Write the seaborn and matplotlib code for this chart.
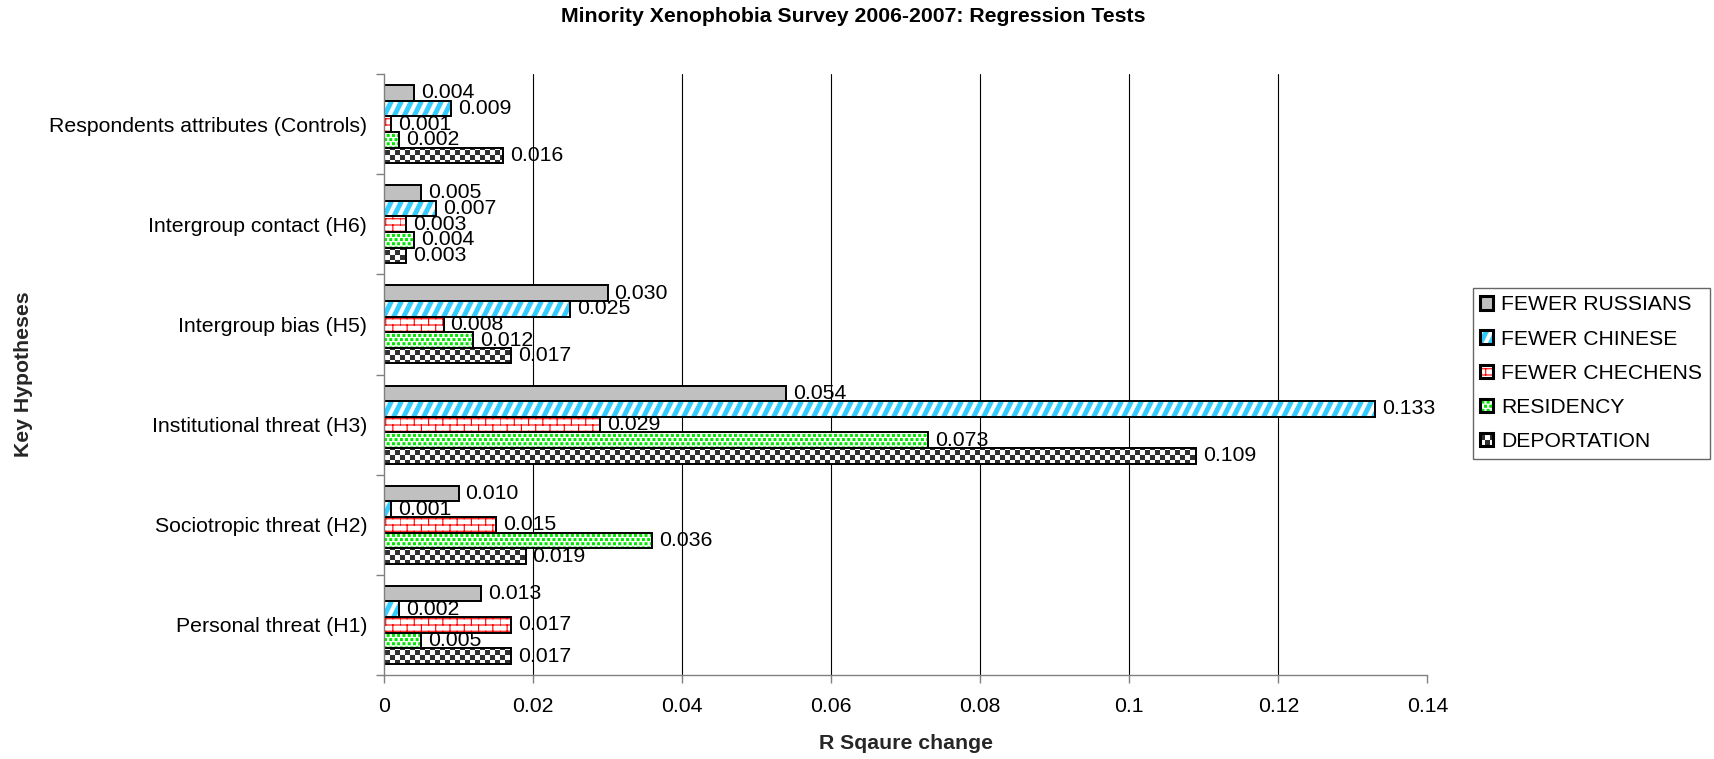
import warnings
warnings.filterwarnings('ignore')
import numpy as np
import pandas as pd
import matplotlib
matplotlib.use('Agg')
import matplotlib.pyplot as plt
import seaborn as sns
import matplotlib.hatch as mhatch
from matplotlib.path import Path
from matplotlib.patches import Rectangle, Patch
from matplotlib.legend_handler import HandlerTuple
from matplotlib.ticker import FixedLocator

# ---------------- data ----------------
hypotheses = ["Respondents attributes (Controls)", "Intergroup contact (H6)",
              "Intergroup bias (H5)", "Institutional threat (H3)",
              "Sociotropic threat (H2)", "Personal threat (H1)"]
measures = ["FEWER RUSSIANS", "FEWER CHINESE", "FEWER CHECHENS", "RESIDENCY", "DEPORTATION"]
fewer_russians = [0.004, 0.005, 0.030, 0.054, 0.010, 0.013]
fewer_chinese = [0.009, 0.007, 0.025, 0.133, 0.001, 0.002]
fewer_chechens = [0.001, 0.003, 0.008, 0.029, 0.015, 0.017]
residency = [0.002, 0.004, 0.012, 0.073, 0.036, 0.005]
deportation = [0.016, 0.003, 0.017, 0.109, 0.019, 0.017]
x_ticks = [0, 0.02, 0.04, 0.06, 0.08, 0.10, 0.12, 0.14]
x_tick_labels = ["0", "0.02", "0.04", "0.06", "0.08", "0.1", "0.12", "0.14"]
title = "Minority Xenophobia Survey 2006-2007: Regression Tests"
x_label = "R Sqaure change"
y_label = "Key Hypotheses"

series = [fewer_russians, fewer_chinese, fewer_chechens, residency, deportation]
df = pd.DataFrame({
    "hypothesis": hypotheses * len(measures),
    "measure": [m for m in measures for _ in hypotheses],
    "value": [v for s in series for v in s],
})

# ---------------- custom Excel-like hatch patterns ----------------
MOVE, LINE, CLOSE = Path.MOVETO, Path.LINETO, Path.CLOSEPOLY


class _Polys(mhatch.HatchPatternBase):
    char = None

    def polys(self):
        return []

    def __init__(self, hatch, density):
        self.on = hatch is not None and self.char in hatch
        self._p = self.polys() if self.on else []
        self.num_vertices = sum(len(p) for p in self._p)

    def set_vertices_and_codes(self, vertices, codes):
        i = 0
        for p in self._p:
            n = len(p)
            for j, (x, y) in enumerate(p):
                vertices[i + j] = (x, y)
            if n == 2:
                codes[i] = MOVE
                codes[i + 1] = LINE
            else:
                codes[i] = MOVE
                codes[i + 1:i + n - 1] = LINE
                codes[i + n - 1] = CLOSE
            i += n


class BrickHatch(_Polys):
    char = 'b'

    def polys(self):
        rows, cols = 16, 7
        out = []
        for r in range(rows):
            y = r / rows
            out.append([(0, y), (1, y)])
            off = 0.5 / cols if r % 2 else 0.0
            for c in range(cols):
                x = c / cols + off
                out.append([(x, y), (x, y + 1 / rows)])
        return out


class CheckHatch(_Polys):
    char = 'k'

    def polys(self):
        n = 20
        s = 1 / n
        e = 0.0055
        out = []
        for i in range(n):
            for j in range(n):
                if (i + j) % 2 == 0:
                    x0, y0 = i * s + e, j * s + e
                    x1, y1 = (i + 1) * s - e, (j + 1) * s - e
                    out.append([(x0, y0), (x1, y0), (x1, y1), (x0, y1), (x0, y0)])
        return out


class DotHatch(_Polys):
    char = 'g'

    def polys(self):
        nx, ny = 19, 24
        d = 0.0095
        out = []
        for r in range(ny):
            y = (r + 0.5) / ny
            off = 0.5 / nx if r % 2 else 0.0
            for c in range(nx):
                x = (c + 0.25) / nx + off
                out.append([(x - d, y - d), (x + d, y - d), (x + d, y + d), (x - d, y + d), (x - d, y - d)])
        return out


class StripeHatch(_Polys):
    char = 's'

    def polys(self):
        n = 10
        w = 0.042
        sh = 0.5
        out = []
        for k in range(-6, 11):
            x0 = k / n
            out.append([(x0, 0), (x0 + w, 0), (x0 + w + sh, 1), (x0 + sh, 1), (x0, 0)])
        return out


mhatch._hatch_types.extend([BrickHatch, CheckHatch, DotHatch, StripeHatch])

styles = [
    dict(face="#c0c0c0", hc="#c0c0c0", hatch=None),
    dict(face="white", hc="#33ccff", hatch="s"),
    dict(face="white", hc="#ff0000", hatch="b"),
    dict(face="white", hc="#00e600", hatch="g"),
    dict(face="white", hc="#303030", hatch="k"),
]

# ---------------- plot ----------------
sns.set_theme(style="white")
plt.rcParams['font.family'] = ['Liberation Sans', 'DejaVu Sans']
plt.rcParams['hatch.linewidth'] = 0.8
plt.rcParams['text.color'] = 'black'
plt.rcParams['xtick.color'] = 'black'
plt.rcParams['ytick.color'] = 'black'

FS = 15.3
W, H = 1715, 759
fig = plt.figure(figsize=(W / 100, H / 100), dpi=100)
ax_left, ax_right, ax_top, ax_bottom = 384, 1427.5, 74, 675
ax = fig.add_axes([ax_left / W, 1 - ax_bottom / H, (ax_right - ax_left) / W, (ax_bottom - ax_top) / H])

sns.barplot(data=df, x="value", y="hypothesis", hue="measure", order=hypotheses,
            hue_order=measures, orient="h", width=0.78,
            palette=[s["face"] for s in styles], saturation=1, legend=False,
            errorbar=None, ax=ax)

for cont, st in zip(ax.containers, styles):
    for bar in cont:
        bar.set_facecolor(st["face"])
        bar.set_edgecolor(st["hc"])
        bar.set_linewidth(0)
        if st["hatch"]:
            bar.set_hatch(st["hatch"])
        ax.add_patch(Rectangle(bar.get_xy(), bar.get_width(), bar.get_height(),
                               fill=False, edgecolor="black", linewidth=1.4,
                               zorder=bar.get_zorder() + 0.1))
    ax.bar_label(cont, fmt="%.3f", padding=5, fontsize=FS, color="black")

ax.set_xlim(0, 0.14)
ax.set_ylim(len(hypotheses) - 0.5, -0.5)
ax.set_xticks(x_ticks, x_tick_labels)
ax.xaxis.grid(True, color="black", linewidth=0.8)
ax.yaxis.grid(False)
ax.set_axisbelow(True)
for t in ax.xaxis.get_major_ticks():
    if abs(t.get_loc() - x_ticks[-1]) < 1e-9 or abs(t.get_loc()) < 1e-9:
        t.gridline.set_visible(False)

ax.yaxis.set_minor_locator(FixedLocator(np.arange(-0.5, len(hypotheses), 1.0)))
ax.tick_params(axis="y", which="major", length=0, pad=12, labelsize=FS)
ax.tick_params(axis="y", which="minor", left=True, length=6, width=1, color="#808080", direction="out")
ax.tick_params(axis="x", which="major", bottom=True, length=6, width=1, color="#808080",
               direction="out", pad=10, labelsize=FS)

for s in ["top", "right"]:
    ax.spines[s].set_visible(False)
for s in ["left", "bottom"]:
    ax.spines[s].set_color("#808080")
    ax.spines[s].set_linewidth(1)

ax.set_xlabel(x_label, fontsize=FS, fontweight="bold")
ax.set_ylabel(y_label, fontsize=FS, fontweight="bold")
ax.xaxis.set_label_coords(0.5, -0.098)
ax.yaxis.set_label_coords(-0.336, 0.5)

fig.text(853.5 / W, 1 - 17 / H, title, ha="center", va="center", fontsize=FS, fontweight="bold")

# legend
handles = []
for st in styles:
    hp = Patch(facecolor=st["face"], edgecolor=st["hc"], linewidth=0, hatch=st["hatch"])
    bp = Patch(fill=False, edgecolor="black", linewidth=2.2)
    handles.append((hp, bp))
leg = fig.legend(handles, measures, handler_map={tuple: HandlerTuple(ndivide=1)},
                 loc="upper left", bbox_to_anchor=(1473 / W, 1 - 288 / H),
                 bbox_transform=fig.transFigure, fontsize=15.2, frameon=True,
                 fancybox=False, borderaxespad=0, borderpad=0.35,
                 labelspacing=0.72, handlelength=0.6, handleheight=0.6,
                 handletextpad=0.4)
leg.get_frame().set_edgecolor("#404040")
leg.get_frame().set_linewidth(1)

fig.savefig("out.png", dpi=100)
